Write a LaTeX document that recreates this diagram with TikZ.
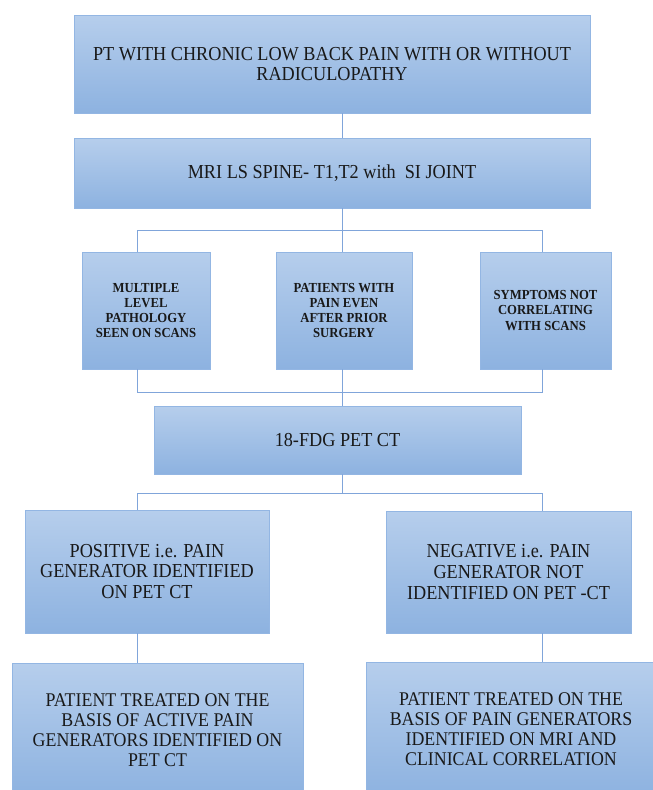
\documentclass[tikz,border=0pt]{standalone}
\usepackage{fontspec}
\setmainfont{Liberation Serif}[FakeStretch=0.92]
\definecolor{lbptop}{HTML}{B6CEEC}
\definecolor{lbpbot}{HTML}{8DB2E0}
\definecolor{lbpedge}{HTML}{93B6E3}
\definecolor{lbpline}{HTML}{80A5DA}
\begin{document}
\begin{tikzpicture}[x=1pt, y=-1pt,
  lbpbox/.style = {draw=lbpedge, line width=0.8pt, top color=lbptop, bottom color=lbpbot,
                   align=center, inner sep=0pt, text=black!90},
  lbplink/.style = {lbpline, line width=1pt},
  lbpbig/.style = {font=\fontsize{19.8}{20.7}\selectfont},
  lbpmid/.style = {font=\fontsize{19.4}{20}\selectfont},
  lbpsmall/.style = {font=\bfseries\fontsize{13.8}{15.2}\selectfont}
]
  \useasboundingbox (0,0) rectangle (653,790);
  \clip (0,0) rectangle (653,790);
  % columns of the connectors
  \coordinate (cl) at (137,0);
  \coordinate (cm) at (342,0);
  \coordinate (cr) at (542,0);
  \coordinate (j1) at (342,230);
  \coordinate (j2) at (342,392);
  \coordinate (j3) at (342,493);
  % start and MRI
  \node[lbpbox, lbpbig, minimum width=516pt, minimum height=98pt] (top) at (332,64)
    {PT WITH CHRONIC LOW BACK PAIN WITH OR WITHOUT\\RADICULOPATHY};
  \node[lbpbox, lbpbig, minimum width=516pt, minimum height=70pt] (mri) at (332,173)
    {MRI LS SPINE- T1,T2 with\ \ SI JOINT};
  % indications
  \node[lbpbox, lbpsmall, minimum width=128pt, minimum height=117pt] (multi) at (146,310.5)
    {MULTIPLE\\LEVEL\\PATHOLOGY\\SEEN ON SCANS};
  \node[lbpbox, lbpsmall, minimum width=136pt, minimum height=117pt] (surg) at (344,310.5)
    {PATIENTS WITH\\PAIN EVEN\\AFTER PRIOR\\SURGERY};
  \node[lbpbox, lbpsmall, minimum width=131pt, minimum height=117pt] (symp) at (545.5,310.5)
    {SYMPTOMS NOT\\CORRELATING\\WITH SCANS};
  % PET CT
  \node[lbpbox, lbpbig, minimum width=367pt, minimum height=68pt] (pet) at (337.5,440)
    {18-FDG PET CT};
  % results
  \node[lbpbox, lbpbig, minimum width=244pt, minimum height=123pt] (pos) at (147,571.5)
    {POSITIVE i.e. PAIN\\GENERATOR IDENTIFIED\\ON PET CT};
  \node[lbpbox, lbpbig, minimum width=245pt, minimum height=122pt] (neg) at (508.5,572)
    {NEGATIVE i.e. PAIN\\GENERATOR NOT\\IDENTIFIED ON PET -CT};
  % treatment
  \node[lbpbox, lbpmid, minimum width=291pt, minimum height=134pt] (treatl) at (157.5,730)
    {PATIENT TREATED ON THE\\BASIS OF ACTIVE PAIN\\GENERATORS IDENTIFIED ON\\PET CT};
  \node[lbpbox, lbpmid, minimum width=290pt, minimum height=134pt] (treatr) at (511,729.5)
    {PATIENT TREATED ON THE\\BASIS OF PAIN GENERATORS\\IDENTIFIED ON MRI AND\\CLINICAL CORRELATION};
  % connectors
  \draw[lbplink] (top.south -| cm) -- (mri.north -| cm);
  \draw[lbplink] (mri.south -| cm) -- (surg.north -| cm);
  \draw[lbplink] (multi.north -| cl) -- (cl |- j1) -- (cr |- j1) -- (symp.north -| cr);
  \draw[lbplink] (multi.south -| cl) -- (cl |- j2) -- (cr |- j2) -- (symp.south -| cr);
  \draw[lbplink] (surg.south -| cm) -- (pet.north -| cm);
  \draw[lbplink] (pet.south -| cm) -- (j3);
  \draw[lbplink] (pos.north -| cl) -- (cl |- j3) -- (cr |- j3) -- (neg.north -| cr);
  \draw[lbplink] (pos.south -| cl) -- (treatl.north -| cl);
  \draw[lbplink] (neg.south -| cr) -- (treatr.north -| cr);
\end{tikzpicture}
\end{document}
